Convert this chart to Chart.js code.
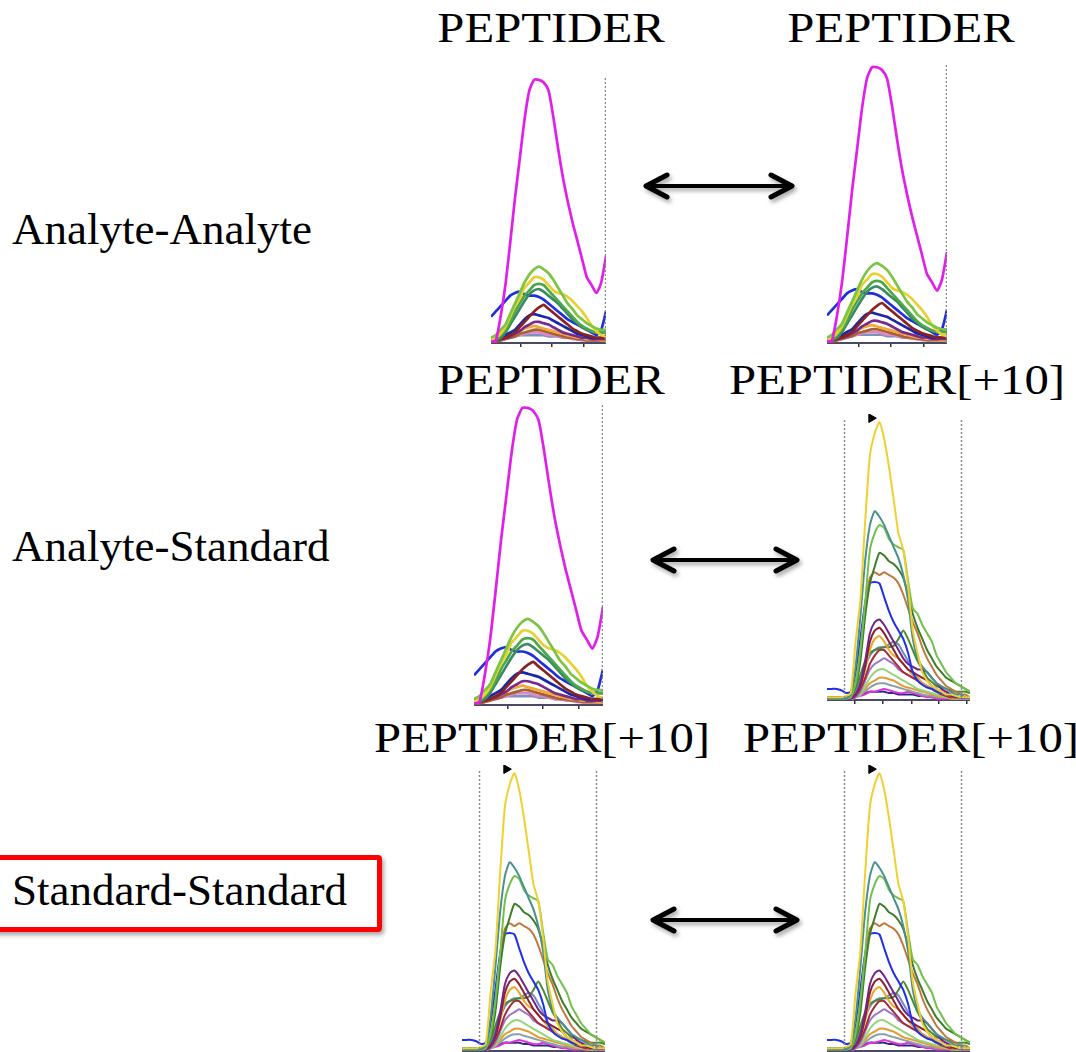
<!DOCTYPE html>
<html>
<head>
<meta charset="utf-8">
<script src="https://cdn.jsdelivr.net/npm/chart.js@4.4.0/dist/chart.umd.min.js"></script>
<style>
  html, body { margin: 0; padding: 0; background: #fff; }
  body { position: relative; width: 1076px; height: 1052px; overflow: hidden; font-family: "Liberation Serif", "DejaVu Serif", serif; color: #000; }
  .title { position: absolute; font-size: 42px; line-height: 1; white-space: nowrap; transform: translateX(-50%) scaleX(1.16); }
  .rowlabel { position: absolute; left: 12px; font-size: 45px; line-height: 1; white-space: nowrap; }
  .chart { position: absolute; }
  .redbox { position: absolute; left: -12px; top: 855px; width: 384px; height: 67px; border: 5px solid #ff0000; border-radius: 4px; box-shadow: 2px 3px 4px rgba(0,0,0,0.35); }
  svg.arrows { position: absolute; left: 0; top: 0; }
</style>
</head>
<body>

<div class="title" style="left:551px; top:7px;">PEPTIDER</div>
<div class="title" style="left:901px; top:7px;">PEPTIDER</div>
<div class="title" style="left:551px; top:359px;">PEPTIDER</div>
<div class="title" style="left:897px; top:359px;">PEPTIDER[+10]</div>
<div class="title" style="left:542px; top:717px;">PEPTIDER[+10]</div>
<div class="title" style="left:911px; top:717px;">PEPTIDER[+10]</div>

<div class="redbox"></div>
<div class="rowlabel" style="top:207px;">Analyte-Analyte</div>
<div class="rowlabel" style="top:524px;">Analyte-Standard</div>
<div class="rowlabel" style="top:868px;">Standard-Standard</div>

<div class="chart" style="left:491px; top:72px; width:115px; height:275px;"><canvas id="c1"></canvas></div>
<div class="chart" style="left:827px; top:59px; width:120px; height:288px;"><canvas id="c2"></canvas></div>
<div class="chart" style="left:474px; top:399px; width:129px; height:310px;"><canvas id="c3"></canvas></div>
<div class="chart" style="left:827px; top:414px; width:143px; height:290px;"><canvas id="c4"></canvas></div>
<div class="chart" style="left:462px; top:765px; width:143px; height:290px;"><canvas id="c5"></canvas></div>
<div class="chart" style="left:827px; top:765px; width:143px; height:290px;"><canvas id="c6"></canvas></div>

<svg class="arrows" width="1076" height="1052">
  <defs>
    <filter id="shadow" x="-20%" y="-50%" width="140%" height="200%">
      <feDropShadow dx="2" dy="3" stdDeviation="2" flood-color="#000" flood-opacity="0.35"/>
    </filter>
  </defs>
  <g stroke="#000" fill="none" stroke-linecap="round" stroke-linejoin="round" filter="url(#shadow)">
    <line x1="648" y1="186" x2="790" y2="186" stroke-width="4"/>
    <polyline points="667,175 646,186 667,197" stroke-width="5"/>
    <polyline points="771,175 792,186 771,197" stroke-width="5"/>

    <line x1="655" y1="560" x2="795" y2="560" stroke-width="4"/>
    <polyline points="674,549 653,560 674,571" stroke-width="5"/>
    <polyline points="776,549 797,560 776,571" stroke-width="5"/>

    <line x1="655" y1="920" x2="795" y2="920" stroke-width="4"/>
    <polyline points="674,909 653,920 674,931" stroke-width="5"/>
    <polyline points="776,909 797,920 776,931" stroke-width="5"/>
  </g>
</svg>

<script>
// Retention-time index along each trace (arbitrary scan units)
const analyteX = [0,1,2,3,4,5,6,7,8,9,10,11,12,13,14,15,16,17,18,19,20,21,22,23,24];
const standardX = [0,1,2,3,4,5,6,7,8,9,10,11,12,13,14,15,16,17,18,19,20,21,22,23,24,25,26,27,28,29,30];

// Analyte (light) transitions, relative intensity %
const analyteMagenta = [0.5,1,10,22,38,55,70,85,96,100,100,99,96,86,74,63,54,46,39,32,25,22,19,23,33];
const analyteLime    = [2,3,5,7,11,15,19,23,26,28,29,28,26.5,24,21,18,15,13,10.5,9,7.5,6.5,5.5,5,5];
const analyteYellow  = [1,2,3.5,6,10,14,17,21,23,25,25,24,22,20,19,18.5,17.5,16,14,12,9.5,6.5,4.5,3,2.5];
const analyteGreen   = [1,1.5,3,5,8,12,15,18,20,22,22.5,22,20,18,16,14,12,10,8,6.5,5.5,4.5,4,4,4];
const analyteTeal    = [0.5,1,2,4,7,10,13,16,18.5,20,20.5,19.5,18,16.5,15,13,11,9,7.5,6,5,4.5,4,4,4];
const analyteBlue    = [10,12,14,16,18,19,19.5,18.5,18,18,17.5,16.5,15,13.5,12,10.5,9,8,7,6,5,4,3,5,12];
const analyteRed     = [0.5,1,1.5,2,3,4,6,8,10,12,13.5,14.5,13,11.5,10,8.5,7,5.5,4.5,3.5,3,2.5,2,2,2];
const analyteNavy    = [1,1,2,3,4,5,7,9,10.5,11,10.5,10,9.5,8.5,7.5,6.5,5.5,4.5,3.5,3,2.5,2,2,2,2];
const analytePurple  = [1,1,1.5,2,2.5,3.5,4.5,6,7,8,8,7.5,7,6,5,4,3.5,3,2.5,2,2,1.5,1.5,1.5,1.5];
const analyteOrange  = [1.5,1.5,2,2.5,3,3.5,4.5,5.5,6,6.5,6,5.5,5,4.5,4,3.5,3,2.5,2,2,1.5,1.5,1.5,1,1];
const analyteBrown   = [0.5,0.5,1,1.5,2,2.5,3.5,4,4.5,5,5,4.5,4,3.5,3,2.5,2,2,1.5,1.5,1,1,1,1,1];
const analytePink    = [1,1,1,1.5,2,2.5,3,3.5,4,4,4,3.5,3,3,2.5,2,2,1.5,1.5,1,1,1,1,1,1];
const analyteSlate   = [2,2,2,2,2.5,2.5,3,3,3,3,3,3,2.5,2.5,2.5,2,2,2,1.5,1.5,1.5,1.5,1.5,1.5,1.5];

// Standard (heavy, [+10]) transitions, relative intensity %
const standardYellow     = [1,1,1,1,1.5,2.5,21,36,64,88,96,100,94,84,72,60,54,41,25,17,10,7,5,4,3,2,2,1.5,1,1,1];
const standardTeal       = [0.5,0.5,0.5,0.5,0.5,2,12,30,50,63,68,66,63,59,55,51,45,36,22,15,12,10,8,6,5,4,3,2,2,1,1];
const standardLightGreen = [0.5,0.5,0.5,0.5,0.5,1,6,18,35,54,60,63,62,58,56,55,54,43,33,31,27,24,21,16,13,10,8,6,5,4,3];
const standardDarkGreen  = [0.5,0.5,0.5,0.5,0.5,1.5,5,14,30,42,48,53,52,50,49,47,44,38,31,26,22,18,15,12,10,8,7,6,5,4,3];
const standardBrown      = [0.5,0.5,0.5,0.5,0.5,1,6,18,33,44,46,45,46,45,44,42,38,33,28,24,19,15,12,9,7,5,4,3,2,2,1];
const standardBlue       = [4,4,4,3.5,2.5,3,10,22,35,42,42.5,42,37,32,28,25,22,17,10,7,5.5,4.5,4,3,2.5,2,2,1.5,1,1,1];
const standardPurple     = [0.5,0.5,0.5,0.5,0.5,0.5,2,6,14,24,28,29,27,24,21,18,15,13,12,11,11,10,8,6,4,3,2,1.5,1,1,1];
const standardDarkRed    = [0.5,0.5,0.5,0.5,0.5,1,2,5,12,21,25,26,24,21,18,15,13,11,10,9,8,7,5,4,3,2,1.5,1,1,1,1];
const standardOrange     = [0.5,0.5,0.5,0.5,0.5,1,2,5,11,18,22,23,21,18,16,15,13,11,9,8,6,5,4,3,2.5,2,1.5,1,1,1,1];
const standardOlive      = [0.5,0.5,0.5,0.5,0.5,1,4,9,14,17,18,18.5,19,19,19.5,22,25,22,18,14,11,8,6.5,5,4.5,4,3.5,3,3,3,2.5];
const standardSteel      = [0.5,0.5,0.5,0.5,0.5,1,3,7,12,16,18,19,19,20,21,20,17,14,10,8,6,5,4,3,2.5,2,1.5,1,1,1,1];
const standardCrimson    = [0.5,0.5,0.5,0.5,0.5,0.5,1.5,4,8,13,16,18,18,16,14,12,10,9,8,7,6,5,4,3,2,1.5,1,1,1,1,1];
const standardLavender   = [0.5,0.5,0.5,0.5,0.5,0.5,1,3,7,11,13,14,15,14,13,11,10,9,8,7,6,5,4,3,2,1.5,1,1,0.5,0.5,0.5];
const standardMint       = [0.5,0.5,0.5,0.5,0.5,0.5,1,2,5,8,10,11,11,10,9,8,7,6,5,4,3.5,3,2.5,2,1.5,1,1,0.5,0.5,0.5,0.5];
const standardAmber      = [0.5,0.5,0.5,0.5,0.5,0.5,1,2,4,6,7,8,8,7.5,7,6,5,4.5,4,3.5,3,2.5,2,1.5,1,1,0.5,0.5,0.5,0.5,0.5];
const standardGray       = [0.5,0.5,0.5,0.5,0.5,0.5,1,2,3,4.5,5.5,6,6,5.5,5,4.5,4,3.5,3,2.5,2,1.5,1.5,1,1,1,0.5,0.5,0.5,0.5,0.5];
const standardMagenta    = [0.5,0.5,0.5,0.5,0.5,0.5,1,1.5,2,3,3,3.5,4,3.5,3,2.5,2.5,3,2.5,2,1.5,1,1,0.5,0.5,0.5,0.5,0.5,0.5,0.5,0.5];
const standardNavy       = [1,1,1,1,1,1,1.5,2,2.5,3,3,3,3,2.5,2.5,2,2,2,2,1.5,1.5,1.5,1,1,1,1,1,1,1,1,1];

// Integration boundaries, axis ticks and apex marker
const analyteBounds = [23.8];
const standardBounds = [3.6, 28.1];
const analyteTicks = [6.3, 12.7, 19.4];
const standardTicks = [5.9, 11.7, 17.8, 23.5, 29.4];
const standardMarkerX = [9.3];
const standardMarkerY = [101.5];

const analyteSeries = [analyteMagenta, analyteLime, analyteYellow, analyteGreen, analyteTeal, analyteBlue,
  analyteRed, analyteNavy, analytePurple, analyteOrange, analyteBrown, analytePink, analyteSlate];
const analyteColors = ['#e020e8', '#7cc444', '#e8d030', '#4aa848', '#3a8a64', '#2030d8',
  '#8a2222', '#1a28a8', '#7a2a8c', '#f0a838', '#a86030', '#d888c8', '#8090b8'];

const standardSeries = [standardYellow, standardTeal, standardLightGreen, standardDarkGreen, standardBrown,
  standardBlue, standardPurple, standardDarkRed, standardOrange, standardOlive, standardSteel, standardCrimson,
  standardLavender, standardMint, standardAmber, standardGray, standardMagenta, standardNavy];
const standardColors = ['#f0d030', '#4a9090', '#72c04a', '#3d7d2a', '#c0783a',
  '#1f2fe8', '#74238a', '#8a2030', '#e8a828', '#4a8a30', '#6a8cc8', '#a8283c',
  '#9a78c8', '#94d47a', '#e49a30', '#8aa0a8', '#e030e0', '#2a2a78'];

// draws the dashed vertical boundary lines
const boundaryPlugin = {
  id: 'boundaries',
  afterDatasetsDraw(chart, args, opts) {
    const {ctx, chartArea, scales} = chart;
    ctx.save();
    ctx.strokeStyle = '#8a8a8a';
    ctx.lineWidth = 1.5;
    ctx.setLineDash([2, 2]);
    (opts.values || []).forEach(v => {
      const x = Math.round(scales.x.getPixelForValue(v)) + 0.5;
      ctx.beginPath();
      ctx.moveTo(x, chartArea.top + 6);
      ctx.lineTo(x, chartArea.bottom);
      ctx.stroke();
    });
    ctx.restore();
  }
};

function makeChart(id, kind) {
  const isStd = kind === 'standard';
  const xs = isStd ? standardX : analyteX;
  const series = isStd ? standardSeries : analyteSeries;
  const colors = isStd ? standardColors : analyteColors;
  const datasets = series.map((vals, i) => ({
    data: vals.map((v, j) => ({x: xs[j], y: v})),
    borderColor: colors[i],
    borderWidth: isStd ? 2 : 2.7,
    pointRadius: 0,
    tension: 0.2,
    fill: false
  }));
  if (isStd) {
    datasets.unshift({
      data: standardMarkerX.map((x, j) => ({x: x, y: standardMarkerY[j]})),
      showLine: false,
      pointStyle: 'triangle',
      rotation: 90,
      pointRadius: 5,
      backgroundColor: '#000',
      borderColor: '#000',
      borderWidth: 1,
      clip: false
    });
  }
  const ticks = isStd ? standardTicks : analyteTicks;
  new Chart(document.getElementById(id), {
    type: 'line',
    data: {datasets},
    options: {
      responsive: true,
      maintainAspectRatio: false,
      animation: false,
      events: [],
      layout: {padding: 0, autoPadding: false},
      scales: {
        x: {
          type: 'linear',
          min: 0,
          max: xs[xs.length - 1],
          afterBuildTicks: scale => { scale.ticks = ticks.map(v => ({value: v})); },
          ticks: {display: false},
          grid: {drawOnChartArea: false, drawTicks: true, tickLength: 4, color: '#333', lineWidth: 1.5},
          border: {display: true, color: '#4a4a66', width: 2}
        },
        y: {display: false, min: 0, max: 103}
      },
      plugins: {
        legend: {display: false},
        tooltip: {enabled: false},
        boundaries: {values: isStd ? standardBounds : analyteBounds}
      }
    },
    plugins: [boundaryPlugin]
  });
}

makeChart('c1', 'analyte');
makeChart('c2', 'analyte');
makeChart('c3', 'analyte');
makeChart('c4', 'standard');
makeChart('c5', 'standard');
makeChart('c6', 'standard');
</script>
</body>
</html>
